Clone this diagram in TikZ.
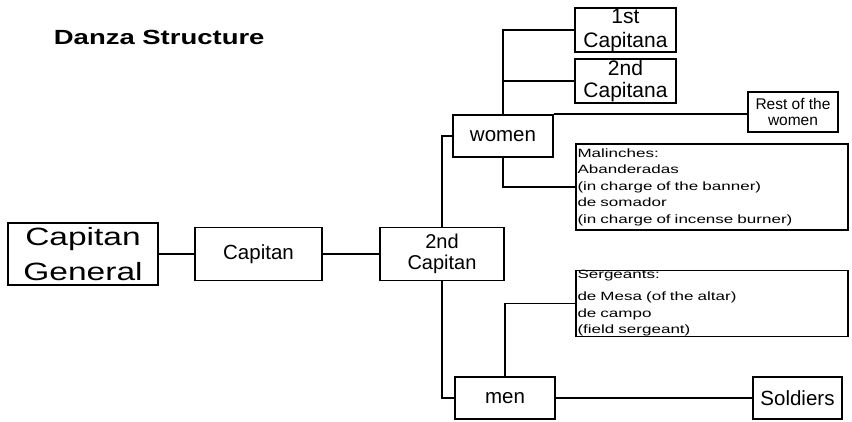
\documentclass[tikz,border=0pt]{standalone}
\usepackage{fontspec}
\setmainfont{Liberation Sans}
\newfontfamily\widesf[FakeStretch=1.34]{Liberation Sans}
\newfontfamily\notesf[FakeStretch=1.42]{Liberation Sans}
\usepackage{tikz}

\begin{document}
\begin{tikzpicture}[x=1pt, y=-1pt, line width=1.8pt,
    box/.style={draw, inner sep=0pt, align=center, font=\fontsize{20.5}{24}\selectfont},
    notebox/.style={draw, inner xsep=1.5pt, inner ysep=0pt, align=left, text width=269pt,
      font=\notesf\fontsize{12}{16.5}\selectfont}]
      \useasboundingbox (0, 0) rectangle (852, 421);
      \node[anchor=base west, inner sep=0pt, font=\widesf\bfseries\fontsize{20.5}{24}\selectfont] (title) at (53, 44) {Danza Structure};
      \node[box, minimum width=150pt, minimum height=62pt, font=\widesf\fontsize{25}{35}\selectfont] (gen) at (83, 254) {Capitan\\General};
      \node[box, minimum width=127pt, minimum height=53pt] (cap) at (258.5, 254) {Capitan};
      \node[box, minimum width=124pt, minimum height=53pt, font=\fontsize{20}{21}\selectfont] (cap2) at (442, 254) {2nd\\Capitan};
      \node[box, minimum width=100pt, minimum height=42pt] (women) at (503, 136) {women};
      \node[box, minimum width=100pt, minimum height=42pt] (men) at (505, 398) {men};
      \node[box, minimum width=101pt, minimum height=44pt, font=\fontsize{21}{24}\selectfont] (cap1st) at (625.5, 30) {1st\\Capitana};
      \node[box, minimum width=101pt, minimum height=44pt, font=\fontsize{21}{22}\selectfont] (cap2nd) at (625.5, 81) {2nd\\Capitana};
      \node[box, minimum width=90pt, minimum height=40pt, font=\fontsize{15.5}{16.5}\selectfont] (rest) at (793, 112) {Rest of the\\women};
      \node[notebox, minimum height=86pt] (mal) at (712, 187) {Malinches:\\Abanderadas\\(in charge of the banner)\\de somador\\(in charge of incense burner)};
      \node[notebox, minimum height=63pt] (serg) at (712, 303.5) {Sergeants:\\[5.5pt]de Mesa (of the altar)\\de campo\\(field sergeant)};
      \node[box, minimum width=89pt, minimum height=42pt] (soldiers) at (797.5, 398) {Soldiers};
      \draw (gen) -- (cap);
      \draw (cap) -- (cap2);
      \draw (cap2) |- (women);
      \draw (cap2) |- (men);
      \draw (women) |- (cap1st);
      \draw (women) |- (cap2nd);
      \draw (women) |- (mal);
      \draw (women.north east) -- (women.north east -| rest.west);
      \draw (men) |- (serg);
      \draw (men) -- (soldiers);
    \end{tikzpicture}
\end{document}
